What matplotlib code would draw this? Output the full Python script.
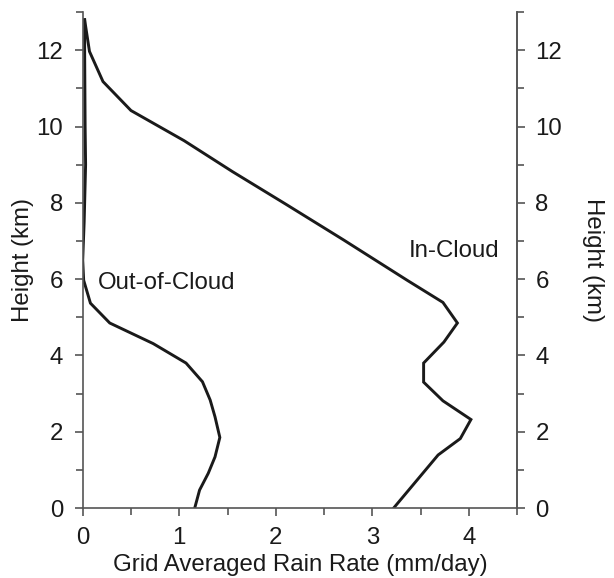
import matplotlib
matplotlib.use("Agg")
import matplotlib.pyplot as plt
from matplotlib.ticker import MultipleLocator

plt.rcParams['font.family'] = ['Liberation Sans', 'DejaVu Sans']

# In-Cloud profile (rain rate mm/day, height km)
in_rate = [3.22, 3.68, 3.91, 4.02, 3.73, 3.53, 3.53, 3.74, 3.88, 3.73, 3.36,
           2.70, 2.10, 1.55, 1.05, 0.50, 0.21, 0.07, 0.02]
in_height = [0.00, 1.39, 1.82, 2.32, 2.81, 3.30, 3.80, 4.35, 4.85, 5.39, 5.97,
             7.03, 7.97, 8.82, 9.63, 10.42, 11.18, 11.97, 12.80]

# Out-of-Cloud profile
out_rate = [1.16, 1.21, 1.30, 1.37, 1.42, 1.37, 1.32, 1.24, 1.07, 0.73, 0.28,
            0.08, 0.01, 0.00, 0.015, 0.03, 0.025, 0.02, 0.02]
out_height = [0.00, 0.47, 0.91, 1.34, 1.85, 2.39, 2.83, 3.31, 3.80, 4.31, 4.85,
              5.37, 5.97, 6.50, 7.50, 9.00, 10.00, 12.00, 12.80]

x_ticks = [0, 1, 2, 3, 4]
y_ticks = [0, 2, 4, 6, 8, 10, 12]

fig = plt.figure(figsize=(6.14, 5.78), dpi=100)
ax = fig.add_axes([0.1347, 0.1211, 0.7078, 0.8579])

ax.plot(in_rate, in_height, color='#1a1a1a', lw=2.1, solid_joinstyle='miter')
ax.plot(out_rate, out_height, color='#1a1a1a', lw=2.1, solid_joinstyle='miter')

ax.set_xlim(0, 4.5)
ax.set_ylim(0, 13)
ax.set_xticks(x_ticks)
ax.set_yticks(y_ticks)
ax.xaxis.set_minor_locator(MultipleLocator(0.5))
ax.yaxis.set_minor_locator(MultipleLocator(1))

fs = 17.3
spine_col = '#555555'
for s in ['left', 'bottom', 'right']:
    ax.spines[s].set_color(spine_col)
    ax.spines[s].set_linewidth(1.2)
ax.spines['top'].set_visible(False)
ax.tick_params(which='both', direction='out', colors=spine_col, width=1.2,
               labelcolor='#1a1a1a', labelsize=fs)
ax.tick_params(which='major', length=6, pad=8)
ax.tick_params(which='minor', length=5)

ax.set_xlabel('Grid Averaged Rain Rate (mm/day)', fontsize=fs, color='#1a1a1a', labelpad=3)
ax.set_ylabel('Height (km)', fontsize=fs, color='#1a1a1a', labelpad=2)

ax2 = ax.twinx()
ax2.set_ylim(0, 13)
ax2.set_yticks(y_ticks)
ax2.yaxis.set_minor_locator(MultipleLocator(1))
for s in ['left', 'bottom', 'top']:
    ax2.spines[s].set_visible(False)
ax2.spines['right'].set_color(spine_col)
ax2.spines['right'].set_linewidth(1.2)
ax2.tick_params(which='both', direction='out', colors=spine_col, width=1.2,
                labelcolor='#1a1a1a', labelsize=fs)
ax2.tick_params(which='major', length=6, pad=7)
ax2.tick_params(which='minor', length=5)
ax2.set_ylabel('Height (km)', fontsize=fs, color='#1a1a1a', rotation=270, labelpad=30)

ax.text(0.16, 5.89, 'Out-of-Cloud', fontsize=fs, color='#1a1a1a', va='center', ha='left')
ax.text(3.38, 6.75, 'In-Cloud', fontsize=fs, color='#1a1a1a', va='center', ha='left')

fig.savefig('out.png', dpi=100)
